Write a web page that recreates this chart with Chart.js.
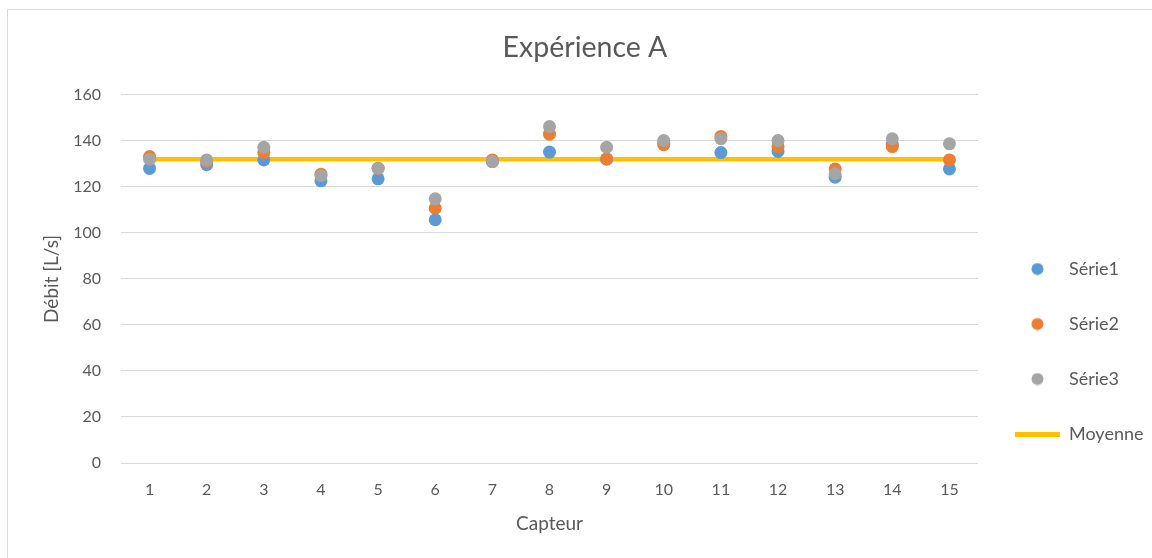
<!DOCTYPE html>
<html>
<head>
<meta charset="utf-8">
<script src="https://cdn.jsdelivr.net/npm/chart.js@4.4.0/dist/chart.umd.min.js"></script>
<style>
    body { margin: 0; background: #fff; }
    #frame { position: absolute; left: 7px; top: 9px; width: 1144px; height: 548px; border: 1px solid #d9d9d9; }
</style>
</head>
<body>
<div id="frame"><canvas id="chart"></canvas></div>
<script>
const capteurs = ['1', '2', '3', '4', '5', '6', '7', '8', '9', '10', '11', '12', '13', '14', '15'];
const serie1 = [128, 129.6, 131.7, 122.6, 123.5, 105.7, 131, 135.1, 132, 139, 134.9, 135.4, 124.2, 138.5, 127.8];
const serie2 = [133.2, 131, 134.9, 125.5, 128, 110.7, 131.7, 142.9, 132.2, 138.3, 141.9, 137.5, 127.8, 137.5, 131.7];
const serie3 = [132, 131.7, 137.2, 124.9, 128.1, 114.8, 131, 146.2, 137.2, 140.1, 140.9, 140.1, 125.7, 140.9, 138.7];
const moyenne = [132, 132, 132, 132, 132, 132, 132, 132, 132, 132, 132, 132, 132, 132, 132];
const yTicks = [0, 20, 40, 60, 80, 100, 120, 140, 160];

const colors = ['#5b9bd5', '#ed7d31', '#a5a5a5', '#ffc000'];
const textColor = '#595959';
const fontFamily = 'Lato, "Open Sans", sans-serif';

// small pictures used as legend markers
function circleSwatch(color) {
    const c = document.createElement('canvas');
    c.width = 13;
    c.height = 13;
    const g = c.getContext('2d');
    g.fillStyle = color;
    g.beginPath();
    g.arc(6.5, 6.5, 6, 0, Math.PI * 2);
    g.fill();
    return c;
}
function lineSwatch(color) {
    const c = document.createElement('canvas');
    c.width = 45;
    c.height = 5;
    const g = c.getContext('2d');
    g.fillStyle = color;
    g.fillRect(0, 0, 45, 5);
    return c;
}
const swatches = [circleSwatch(colors[0]), circleSwatch(colors[1]), circleSwatch(colors[2]), lineSwatch(colors[3])];

function scatterSet(label, data, color, order) {
    return {
        label: label,
        data: data,
        showLine: false,
        pointStyle: 'circle',
        pointRadius: 6.5,
        pointBackgroundColor: color,
        pointBorderColor: color,
        pointBorderWidth: 0,
        backgroundColor: color,
        borderColor: color,
        order: order
    };
}

new Chart(document.getElementById('chart'), {
    type: 'line',
    data: {
        labels: capteurs,
        datasets: [
            scatterSet('Série1', serie1, colors[0], 3),
            scatterSet('Série2', serie2, colors[1], 2),
            scatterSet('Série3', serie3, colors[2], 1),
            {
                label: 'Moyenne',
                data: moyenne,
                borderColor: colors[3],
                backgroundColor: colors[3],
                borderWidth: 4.5,
                pointRadius: 0,
                order: 4
            }
        ]
    },
    options: {
        responsive: true,
        maintainAspectRatio: false,
        animation: false,
        layout: { padding: { left: 10, right: 0, top: 0, bottom: 0 } },
        plugins: {
            tooltip: { enabled: false },
            title: {
                display: true,
                text: 'Expérience A',
                color: textColor,
                font: { family: fontFamily, size: 28.5, weight: 'normal' },
                padding: { top: 21, bottom: 29.6 }
            },
            legend: {
                position: 'right',
                align: 'center',
                maxWidth: 174,
                title: {
                    display: true,
                    text: ' ',
                    font: { size: 10, lineHeight: 1 },
                    padding: { top: 125, bottom: 0 }
                },
                labels: {
                    usePointStyle: true,
                    pointStyleWidth: 45,
                    boxHeight: 8.5,
                    padding: 37,
                    color: textColor,
                    font: { family: fontFamily, size: 18 },
                    sort: (a, b) => a.datasetIndex - b.datasetIndex,
                    generateLabels: function(chart) {
                        const items = Chart.defaults.plugins.legend.labels.generateLabels(chart);
                        items.forEach(item => { item.pointStyle = swatches[item.datasetIndex]; });
                        return items;
                    }
                }
            }
        },
        scales: {
            x: {
                offset: true,
                grid: { display: false, drawTicks: false },
                border: { display: false },
                ticks: {
                    color: textColor,
                    padding: 17.4,
                    font: { family: fontFamily, size: 16 }
                },
                title: {
                    display: true,
                    text: 'Capteur',
                    color: textColor,
                    font: { family: fontFamily, size: 19 },
                    padding: { top: 0, bottom: 22.6 }
                },
                afterFit: function(scale) { scale.height = 95; }
            },
            y: {
                min: 0,
                max: 160,
                border: { display: false },
                grid: { color: '#d9d9d9', lineWidth: 1, drawTicks: false },
                afterBuildTicks: function(scale) {
                    scale.ticks = yTicks.map(v => ({ value: v }));
                },
                ticks: {
                    color: textColor,
                    padding: 20,
                    font: { family: fontFamily, size: 16 }
                },
                title: {
                    display: true,
                    text: 'Débit [L/s]',
                    color: textColor,
                    font: { family: fontFamily, size: 19 },
                    padding: { top: 22.6, bottom: 0 }
                },
                afterFit: function(scale) { scale.width = 103; }
            }
        }
    }
});
</script>
</body>
</html>
